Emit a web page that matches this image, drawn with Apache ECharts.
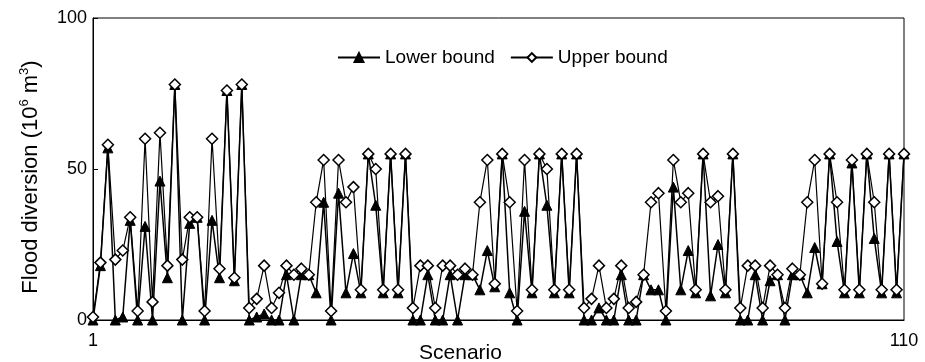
<!DOCTYPE html>
<html>
<head>
<meta charset="utf-8">
<script src="https://cdn.jsdelivr.net/npm/echarts@6/dist/echarts.min.js"></script>
<style>
  html, body { margin: 0; padding: 0; background: #fff; }
  #chart { width: 925px; height: 362px; }
</style>
</head>
<body>
<div id="chart"></div>
<script>
// Scenario numbers 1..110
const scenarios = Array.from({ length: 110 }, (_, i) => String(i + 1));

// Flood diversion, lower bound (10^6 m^3)
const lowerBound = [
  0, 18, 57, 0, 1, 33, 0, 31, 0, 46,
  14, 78, 0, 32, 34, 0, 33, 14, 76, 13,
  78, 0, 1, 2, 0, 0, 15, 0, 15, 15,
  9, 39, 0, 42, 9, 22, 9, 55, 38, 9,
  55, 9, 55, 0, 0, 15, 0, 0, 15, 0,
  15, 15, 10, 23, 11, 55, 9, 0, 36, 9,
  55, 38, 9, 55, 9, 55, 0, 0, 4, 0,
  0, 15, 0, 0, 15, 10, 10, 0, 44, 10,
  23, 9, 55, 8, 25, 9, 55, 0, 0, 15,
  0, 13, 15, 0, 15, 15, 9, 24, 12, 55,
  26, 9, 52, 9, 55, 27, 9, 55, 9, 55
];

// Flood diversion, upper bound (10^6 m^3)
const upperBound = [
  1, 19, 58, 20, 23, 34, 3, 60, 6, 62,
  18, 78, 20, 34, 34, 3, 60, 17, 76, 14,
  78, 4, 7, 18, 4, 9, 18, 15, 17, 15,
  39, 53, 3, 53, 39, 44, 10, 55, 50, 10,
  55, 10, 55, 4, 18, 18, 4, 18, 18, 15,
  17, 15, 39, 53, 12, 55, 39, 3, 53, 10,
  55, 50, 10, 55, 10, 55, 4, 7, 18, 4,
  7, 18, 4, 6, 15, 39, 42, 3, 53, 39,
  42, 10, 55, 39, 41, 10, 55, 4, 18, 18,
  4, 18, 15, 4, 17, 15, 39, 53, 12, 55,
  39, 10, 53, 10, 55, 39, 10, 55, 10, 55
];

const yTicks = [0, 50, 100];

const FONT = 'Liberation Sans, Arial, Helvetica, sans-serif';
const chart = echarts.init(document.getElementById('chart'), null, { renderer: 'canvas' });

chart.setOption({
  animation: false,
  backgroundColor: '#ffffff',
  textStyle: { fontFamily: FONT, color: '#000' },
  grid: {
    left: 93, right: 21, top: 18, bottom: 42,
    containLabel: false,
    outerBoundsMode: 'none',
    show: true, borderColor: '#000', borderWidth: 1, backgroundColor: 'transparent'
  },
  legend: {
    top: 43, left: 332,
    itemGap: 15, itemWidth: 42, itemHeight: 11,
    textStyle: { fontFamily: FONT, fontSize: 19, color: '#000' },
    data: ['Lower bound', 'Upper bound']
  },
  xAxis: {
    type: 'category',
    data: scenarios,
    boundaryGap: false,
    name: 'Scenario',
    nameLocation: 'middle',
    nameGap: 23,
    nameMoveOverlap: false,
    nameTextStyle: { fontFamily: FONT, fontSize: 21, color: '#000', padding: [0, 76, 0, 0] },
    axisLine: { show: true, lineStyle: { color: '#000', width: 1 } },
    axisTick: { show: false },
    axisLabel: {
      interval: (idx) => idx === 0 || idx === scenarios.length - 1,
      fontFamily: FONT, fontSize: 18, color: '#000', margin: 12
    },
    splitLine: { show: false }
  },
  yAxis: {
    type: 'value',
    min: yTicks[0], max: yTicks[yTicks.length - 1], interval: 50,
    name: '{t|Flood diversion (10}{s|6}{t| m}{s|3}{t|)}',
    nameLocation: 'middle',
    nameGap: 50,
    nameRotate: 90,
    nameMoveOverlap: false,
    nameTextStyle: {
      padding: [0, 16, 0, 0],
      rich: {
        t: { fontFamily: FONT, fontSize: 22, color: '#000' },
        s: { fontFamily: FONT, fontSize: 13, color: '#000', verticalAlign: 'top', padding: [0, 0, 12, 0] }
      }
    },
    axisLine: { show: true, lineStyle: { color: '#000', width: 1 } },
    axisTick: { show: true, inside: true, length: 5, lineStyle: { color: '#000' } },
    axisLabel: { fontFamily: FONT, fontSize: 18, color: '#000', margin: 6 },
    splitLine: { show: false }
  },
  series: [
    {
      name: 'Lower bound',
      type: 'line',
      data: lowerBound,
      symbol: 'triangle',
      symbolSize: 10,
      showAllSymbol: true,
      lineStyle: { color: '#000', width: 1.5 },
      itemStyle: { color: '#000', borderColor: '#000', borderWidth: 1 },
      z: 2
    },
    {
      name: 'Upper bound',
      type: 'line',
      data: upperBound,
      symbol: 'diamond',
      symbolSize: 11,
      showAllSymbol: true,
      lineStyle: { color: '#000', width: 1.2 },
      itemStyle: { color: '#fff', borderColor: '#000', borderWidth: 1.5 },
      z: 3
    }
  ]
});
</script>
</body>
</html>
